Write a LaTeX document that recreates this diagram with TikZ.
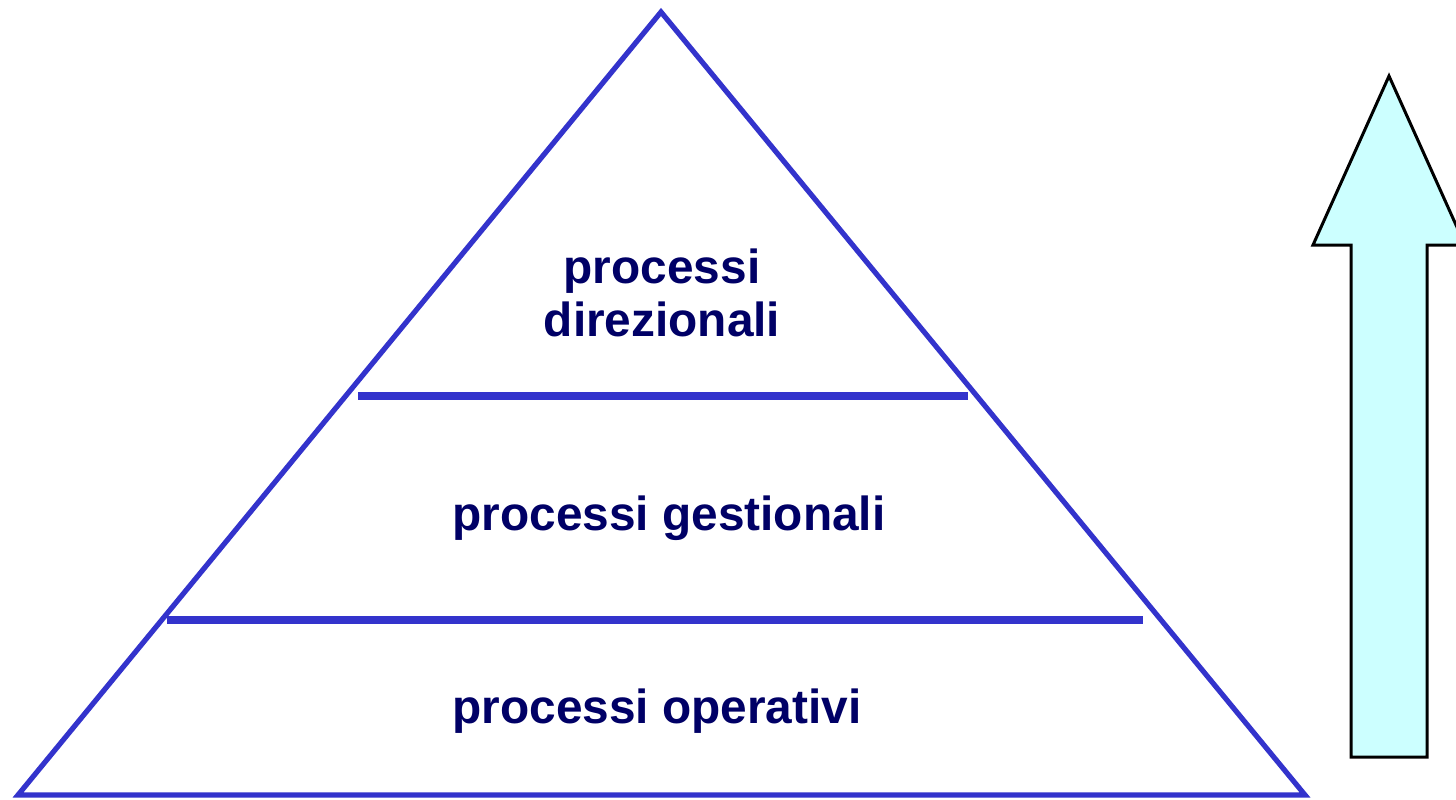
\documentclass[tikz,border=0pt]{standalone}
\usepackage{fontspec}
\setmainfont{Liberation Sans}
\usepackage{tikz}
\definecolor{pyrblue}{HTML}{3333CC}
\definecolor{pyrtext}{HTML}{000066}
\definecolor{arrowfill}{HTML}{CCFFFF}
\tikzset{
  level/.style={font=\fontsize{23.9}{26.5}\selectfont\bfseries,text=pyrtext,align=center,inner sep=0pt},
}
\begin{document}
\begin{tikzpicture}[x=0.5pt,y=-0.5pt]
  \useasboundingbox (0,0) rectangle (1456,799);
  \clip (0,0) rectangle (1456,799);
  \fill[white] (0,0) rectangle (1456,799);
  % pyramid
  \draw[pyrblue,line width=2.6pt,line join=miter] (661,12) -- (18,795) -- (1305,795) -- cycle;
  \draw[pyrblue,line width=3.6pt] (358,396) -- (968,396);
  \draw[pyrblue,line width=3.6pt] (167,620) -- (1143,620);
  \node[level] (dir) at (662,293) {processi\\direzionali};
  \node[level] (ges) at (669,518) {processi gestionali};
  \node[level] (ope) at (657,711) {processi operativi};
  % upward arrow
  \draw[black,fill=arrowfill,line width=1.5pt,line join=miter]
    (1351,757) -- (1351,245) -- (1313,245) -- (1389,76) -- (1465,245)
    -- (1427,245) -- (1427,757) -- cycle;
\end{tikzpicture}
\end{document}
